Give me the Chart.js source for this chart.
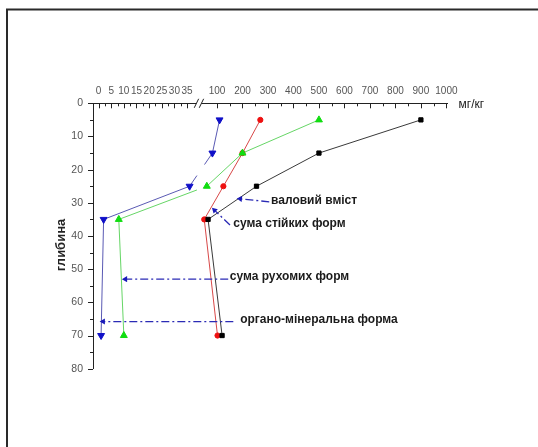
<!DOCTYPE html>
<html>
<head>
<meta charset="utf-8">
<script src="https://cdn.jsdelivr.net/npm/chart.js@4.4.1/dist/chart.umd.min.js"></script>
<style>
  html, body { margin: 0; padding: 0; background: #fff; }
</style>
</head>
<body>
<canvas id="myChart" width="538" height="447"></canvas>
<script>
// sampling depth, cm
const depths = [5, 15, 25, 35, 70]
// mg/kg
const totalContent = [900, 500, 255, 65, 120]   // валовий вміст
const stableForms = [270, 200, 125, 50, 102]    // сума стійких форм
const mobileForms = [500, 200, 60, 8, 10]       // сума рухомих форм
const organoMineral = [110, 82, 36, 2, 1]       // органо-мінеральна форма

const seriesNames = ['валовий вміст', 'сума стійких форм', 'сума рухомих форм', 'органо-мінеральна форма']

// tick labels either side of the axis break
const lowTicks = [0, 5, 10, 15, 20, 25, 30, 35]
const highTicks = [100, 200, 300, 400, 500, 600, 700, 800, 900, 1000]
const depthTicks = [0, 10, 20, 30, 40, 50, 60, 70, 80]

// callouts (value, depth): arrow tail, arrow tip, where the label starts
const calloutTail = [[305, 29.7], [151, 36.7], [144, 53], [164, 65.8]]
const calloutTip = [[191, 28.8], [90, 32.2], [10.6, 53], [1.8, 65.8]]
const calloutText = [[312, 29.3], [164, 36.2], [150, 52.4], [191, 65.3]]

// broken x axis: 0..35 stretched on the left, the rest squeezed on the right
const BREAK = 37
const toAxis = v => (v <= BREAK ? v : 36.76 + 0.1008 * v)
const BREAK_MID = 39.7
const BREAK_BAND = [38.9, 41.9]

const FONT = "'Liberation Sans', Arial, sans-serif"

const pts = vals => vals.map((v, i) => ({ x: toAxis(v), y: depths[i] }))

// lines are blanked where they pass through the break
const gapDash = ctx => {
  const xs = ctx.chart.scales.x
  const b0 = xs.getPixelForValue(BREAK_BAND[0])
  const b1 = xs.getPixelForValue(BREAK_BAND[1])
  const p0 = ctx.p0, p1 = ctx.p1
  const lo = Math.min(p0.x, p1.x), hi = Math.max(p0.x, p1.x)
  if (lo >= b0 || hi <= b1) return undefined
  const len = Math.hypot(p1.x - p0.x, p1.y - p0.y)
  const f = px => Math.abs(px - p0.x) / Math.abs(p1.x - p0.x) * len
  const d0 = Math.min(f(b0), f(b1)), d1 = Math.max(f(b0), f(b1))
  return [d0, d1 - d0, len + 10]
}

const series = (vals, line, fill, style, radius, rot, order) => ({
  data: pts(vals),
  showLine: true,
  borderColor: line,
  borderWidth: 1,
  backgroundColor: fill,
  pointBackgroundColor: fill,
  pointBorderColor: fill,
  pointBorderWidth: 1,
  pointStyle: style,
  pointRadius: radius,
  pointRotation: rot,
  order: order,
  segment: { borderDash: gapDash }
})

const arrowAngle = ctx => {
  if (ctx.dataIndex !== 1) return 0
  const { x, y } = ctx.chart.scales
  const d = ctx.dataset.data
  const dx = x.getPixelForValue(d[1].x) - x.getPixelForValue(d[0].x)
  const dy = y.getPixelForValue(d[1].y) - y.getPixelForValue(d[0].y)
  return Math.atan2(dx, -dy) * 180 / Math.PI
}

const arrows = calloutTail.map((tail, i) => ({
  data: [
    { x: toAxis(tail[0]), y: tail[1] },
    { x: toAxis(calloutTip[i][0]), y: calloutTip[i][1] }
  ],
  showLine: true,
  borderColor: '#2b2bb5',
  borderWidth: 1.3,
  borderDash: [8, 3, 2, 3],
  backgroundColor: '#1a1aba',
  pointBackgroundColor: '#1a1aba',
  pointBorderWidth: 0,
  pointStyle: 'triangle',
  pointRadius: [0, 3.5],
  pointRotation: arrowAngle,
  order: -1
}))

const originAxes = {
  id: 'originAxes',
  beforeDraw(chart) {
    const { ctx, width, height } = chart
    ctx.save()
    ctx.fillStyle = '#fff'
    ctx.fillRect(0, 0, width, height)
    ctx.strokeStyle = '#2a2a2a'
    ctx.lineWidth = 2
    ctx.beginPath()
    ctx.moveTo(7, height)
    ctx.lineTo(7, 9.5)
    ctx.lineTo(width, 9.5)
    ctx.stroke()
    ctx.restore()
  },
  afterDraw(chart) {
    const { ctx, chartArea: a, scales: { x, y } } = chart
    ctx.save()
    ctx.strokeStyle = '#222'
    ctx.lineWidth = 1
    ctx.beginPath()
    x.ticks.forEach(t => {
      const px = Math.round(x.getPixelForValue(t.value)) + 0.5
      const len = t.isMajor ? 5 : 3
      ctx.moveTo(px, a.top)
      ctx.lineTo(px, a.top + len)
    })
    y.ticks.forEach(t => {
      const py = Math.round(y.getPixelForValue(t.value)) + 0.5
      const len = depthTicks.includes(t.value) ? 5 : 3
      ctx.moveTo(a.left - len, py)
      ctx.lineTo(a.left, py)
    })
    ctx.stroke()

    // axis break //
    const bx = x.getPixelForValue(BREAK_MID)
    ctx.fillStyle = '#fff'
    ctx.fillRect(bx - 2.5, a.top - 1.5, 5, 3)
    ctx.beginPath()
    ;[-2.5, 2.5].forEach(o => {
      ctx.moveTo(bx + o - 2.2, a.top + 4.5)
      ctx.lineTo(bx + o + 2.2, a.top - 4.5)
    })
    ctx.stroke()

    // callout labels
    ctx.fillStyle = '#1b1b1b'
    ctx.font = 'bold 12px ' + FONT
    ctx.textBaseline = 'middle'
    ctx.textAlign = 'left'
    calloutText.forEach((p, i) => {
      ctx.fillText(seriesNames[i], x.getPixelForValue(toAxis(p[0])), y.getPixelForValue(p[1]))
    })

    // units
    ctx.font = '12px ' + FONT
    ctx.fillStyle = '#222'
    ctx.fillText('мг/кг', a.right + 11, a.top + 1)

    // depth title
    ctx.font = 'bold 13px ' + FONT
    ctx.textAlign = 'center'
    ctx.translate(a.left - 32, (a.top + a.bottom) / 2 + 9)
    ctx.rotate(-Math.PI / 2)
    ctx.fillText('глибина', 0, 0)
    ctx.restore()
  }
}

const ctx = document.getElementById('myChart')
const myChart = new Chart(ctx, {
  type: 'scatter',
  data: {
    datasets: [
      series(totalContent, '#3a3a3a', '#000', 'rect', 3, 0, 0),
      series(stableForms, '#d84848', '#ee1010', 'circle', 2.6, 0, 3),
      series(mobileForms, '#66d666', '#10dd10', 'triangle', 4, 0, 1),
      series(organoMineral, '#5a5ab4', '#1010c8', 'triangle', 4, 180, 2),
      ...arrows
    ]
  },
  options: {
    responsive: false,
    animation: false,
    devicePixelRatio: 1,
    layout: { padding: { left: 0, top: 0, right: 90.5, bottom: 78.3 } },
    plugins: { legend: { display: false }, tooltip: { enabled: false } },
    scales: {
      x: {
        type: 'linear',
        position: 'top',
        min: -2.2,
        max: 138,
        afterFit: s => { s.height = 103.3 },
        afterBuildTicks: s => {
          const t = []
          for (let v = 0; v <= 35; v += 2.5) {
            t.push({ value: toAxis(v), lbl: lowTicks.includes(v) ? String(v) : '', isMajor: lowTicks.includes(v) })
          }
          for (let v = 100; v <= 1000; v += 50) {
            t.push({ value: toAxis(v), lbl: highTicks.includes(v) ? String(v) : '', isMajor: highTicks.includes(v) })
          }
          s.ticks = t
        },
        grid: { display: false, drawTicks: false },
        border: { display: true, color: '#222', width: 1 },
        ticks: {
          autoSkip: false,
          maxRotation: 0,
          minRotation: 0,
          padding: 6,
          color: '#555',
          font: { family: FONT, size: 10 },
          callback: (value, i, ticks) => ticks[i].lbl
        }
      },
      y: {
        type: 'linear',
        reverse: true,
        min: 0,
        max: 80,
        afterFit: s => { s.width = 93 },
        grid: { display: false, drawTicks: false },
        border: { display: true, color: '#222', width: 1 },
        ticks: {
          stepSize: 5,
          padding: 10,
          color: '#555',
          font: { family: FONT, size: 10.5 },
          callback: v => (depthTicks.includes(v) ? v : '')
        }
      }
    }
  },
  plugins: [originAxes]
})
</script>
</body>
</html>
